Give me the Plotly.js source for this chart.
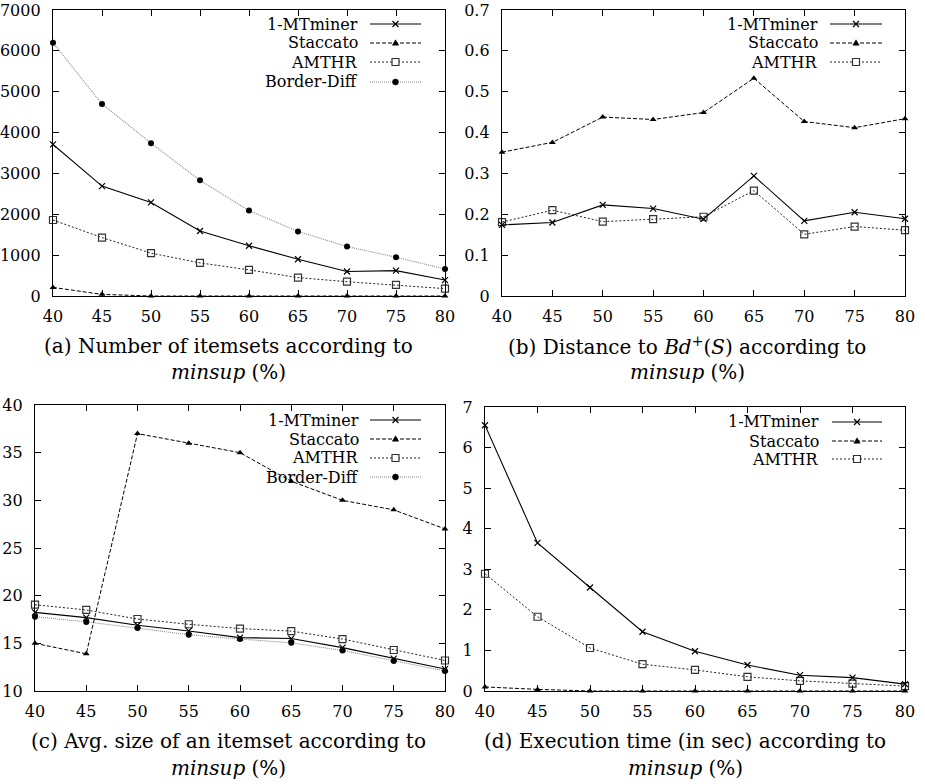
<!DOCTYPE html>
<html>
<head>
<meta charset="utf-8">
<script src="https://cdn.plot.ly/plotly-3.0.1.min.js"></script>
<style>html,body{margin:0;padding:0;background:#fff;}#chart{width:925px;height:784px;}</style>
</head>
<body>
<div id="chart"></div>
<script>
// ---------- data ----------
const minsup = [40, 45, 50, 55, 60, 65, 70, 75, 80];

// (a) Number of itemsets
const itemsMT = [3710, 2690, 2290, 1590, 1230, 900, 600, 620, 390];
const itemsStaccato = [210, 40, 0, 0, 0, 0, 0, 0, 0];
const itemsAMTHR = [1860, 1430, 1050, 810, 640, 450, 350, 270, 180];
const itemsBorder = [6200, 4700, 3740, 2830, 2090, 1580, 1210, 950, 660];

// (b) Distance to Bd+(S)
const distMT = [0.174, 0.180, 0.223, 0.214, 0.188, 0.294, 0.184, 0.205, 0.189];
const distStaccato = [0.352, 0.376, 0.438, 0.432, 0.449, 0.533, 0.427, 0.412, 0.434];
const distAMTHR = [0.181, 0.210, 0.182, 0.188, 0.194, 0.258, 0.151, 0.170, 0.161];

// (c) Avg. size of an itemset
const sizeMT = [18.25, 17.7, 16.9, 16.3, 15.6, 15.5, 14.55, 13.4, 12.3];
const sizeStaccato = [15.0, 13.9, 37.0, 36.0, 35.0, 32.0, 30.0, 29.0, 27.0];
const sizeAMTHR = [19.05, 18.5, 17.55, 17.0, 16.55, 16.28, 15.45, 14.3, 13.2];
const sizeBorder = [17.8, 17.25, 16.6, 15.9, 15.45, 15.05, 14.25, 13.15, 12.1];

// (d) Execution time (sec)
const timeMT = [6.55, 3.65, 2.55, 1.46, 0.98, 0.64, 0.39, 0.33, 0.17];
const timeStaccato = [0.1, 0.04, 0, 0, 0, 0, 0, 0, 0];
const timeAMTHR = [2.89, 1.83, 1.06, 0.66, 0.52, 0.35, 0.25, 0.18, 0.12];

const seriesNames = ["1-MTminer", "Staccato", "AMTHR", "Border-Diff"];
const captions = [
  "(a) Number of itemsets according to",
  "(b) Distance to <i>Bd</i><sup>+</sup>(<i>S</i>) according to",
  "(c) Avg. size of an itemset according to",
  "(d) Execution time (in sec) according to"
];
const captionLine2 = "<i>minsup</i> (%)";

// ---------- styles ----------
const W = 925, H = 784;
const FONT = "DejaVu Serif";
const TICK_SIZE = 16, LEG_SIZE = 16, CAP_SIZE = 20;
const styles = {
  "1-MTminer":  {line: {color: "#000", width: 1.1, dash: "solid"}, marker: {symbol: "x-thin", size: 6, color: "#000", line: {width: 1.2, color: "#000"}}},
  "Staccato":   {line: {color: "#000", width: 1, dash: "4px,2px"}, marker: {symbol: "triangle-up", size: 6, color: "#000"}},
  "AMTHR":      {line: {color: "#222", width: 1, dash: "2px,2px"}, marker: {symbol: "square-open", size: 7, color: "#333", line: {width: 1.2, color: "#333"}}},
  "Border-Diff":{line: {color: "#8a8a8a", width: 1.1, dash: "1px,1px"}, marker: {symbol: "circle", size: 6, color: "#000"}}
};

function trace(name, ys, ax) {
  const s = styles[name];
  return {
    type: "scatter", mode: "lines+markers", name: name,
    x: minsup, y: ys, xaxis: "x" + ax, yaxis: "y" + ax,
    line: s.line, marker: s.marker, cliponaxis: false, showlegend: false
  };
}

const data = [
  trace("Border-Diff", itemsBorder, ""), trace("AMTHR", itemsAMTHR, ""), trace("Staccato", itemsStaccato, ""), trace("1-MTminer", itemsMT, ""),
  trace("AMTHR", distAMTHR, "2"), trace("Staccato", distStaccato, "2"), trace("1-MTminer", distMT, "2"),
  trace("Border-Diff", sizeBorder, "3"), trace("AMTHR", sizeAMTHR, "3"), trace("Staccato", sizeStaccato, "3"), trace("1-MTminer", sizeMT, "3"),
  trace("AMTHR", timeAMTHR, "4"), trace("Staccato", timeStaccato, "4"), trace("1-MTminer", timeMT, "4")
];

// ---------- layout ----------
const px = x => x / W;
const py = y => 1 - y / H;

function xAxis(l, r, anchor) {
  return {
    domain: [px(l), px(r)], range: [40, 80], tick0: 40, dtick: 5, anchor: anchor,
    showgrid: false, zeroline: false, showline: true, linecolor: "#000", linewidth: 1.2, mirror: "ticks",
    ticks: "inside", ticklen: 6, tickcolor: "#000", tickwidth: 1, ticklabeloverflow: "allow",
    tickfont: {family: FONT, size: TICK_SIZE, color: "#000"}, ticklabelstandoff: 6, fixedrange: true
  };
}
function yAxis(t, b, range, dtick, anchor) {
  return {
    domain: [py(b), py(t)], range: range, dtick: dtick, tick0: range[0], anchor: anchor,
    showgrid: false, zeroline: false, showline: true, linecolor: "#000", linewidth: 1.2, mirror: "ticks",
    ticks: "inside", ticklen: 6, tickcolor: "#000", tickwidth: 1, ticklabeloverflow: "allow",
    tickfont: {family: FONT, size: TICK_SIZE, color: "#000"}, ticklabelstandoff: 8, fixedrange: true
  };
}

const annotations = [];
const shapes = [];

function addLegend(names, textRight, lineL, lineR, rowsY) {
  names.forEach((n, i) => {
    const y = rowsY[i];
    const s = styles[n];
    annotations.push({xref: "paper", yref: "paper", x: px(textRight), y: py(y), xanchor: "right", yanchor: "middle",
      text: n, showarrow: false, font: {family: FONT, size: LEG_SIZE, color: "#000"}, borderpad: 0});
    shapes.push({type: "line", xref: "paper", yref: "paper", x0: px(lineL), x1: px(lineR), y0: py(y), y1: py(y),
      line: {color: s.line.color, width: s.line.width, dash: s.line.dash}});
    const cx = px((lineL + lineR) / 2), cy = py(y);
    const base = {xref: "paper", yref: "paper", xsizemode: "pixel", ysizemode: "pixel", xanchor: cx, yanchor: cy};
    if (n === "1-MTminer") {
      shapes.push(Object.assign({}, base, {type: "path", path: "M-3,-3L3,3M-3,3L3,-3", line: {color: "#000", width: 1.2}}));
    } else if (n === "Staccato") {
      shapes.push(Object.assign({}, base, {type: "path", path: "M-3.2,-2.2L3.2,-2.2L0,3.2Z", fillcolor: "#000", line: {color: "#000", width: 0.5}}));
    } else if (n === "AMTHR") {
      shapes.push(Object.assign({}, base, {type: "rect", x0: -3.5, x1: 3.5, y0: -3.5, y1: 3.5, fillcolor: "#fff", line: {color: "#333", width: 1.2}}));
    } else {
      shapes.push(Object.assign({}, base, {type: "circle", x0: -3, x1: 3, y0: -3, y1: 3, fillcolor: "#000", line: {color: "#000", width: 0.5}}));
    }
  });
}

addLegend(seriesNames, 359, 370, 421, [24, 43, 62, 82]);
addLegend(seriesNames.slice(0, 3), 819, 830, 882, [24, 43, 62]);
addLegend(seriesNames, 360, 370, 421, [420, 439, 458, 477]);
addLegend(seriesNames.slice(0, 3), 820, 832, 882, [422, 441, 459]);

function addCaption(text, cx, y1, y2) {
  annotations.push({xref: "paper", yref: "paper", x: px(cx), y: py(y1), xanchor: "center", yanchor: "middle",
    text: text, showarrow: false, font: {family: FONT, size: CAP_SIZE, color: "#000"}});
  annotations.push({xref: "paper", yref: "paper", x: px(cx), y: py(y2), xanchor: "center", yanchor: "middle",
    text: captionLine2, showarrow: false, font: {family: FONT, size: CAP_SIZE, color: "#000"}});
}
addCaption(captions[0], 228, 346, 372);
addCaption(captions[1], 687, 346, 372);
addCaption(captions[2], 228, 741, 768);
addCaption(captions[3], 685, 741, 768);

const layout = {
  width: W, height: H, margin: {l: 0, r: 0, t: 0, b: 0},
  paper_bgcolor: "#fff", plot_bgcolor: "#fff", showlegend: false,
  font: {family: FONT, color: "#000"},
  xaxis: xAxis(53, 445, "y"),
  yaxis: yAxis(10, 296, [0, 7000], 1000, "x"),
  xaxis2: xAxis(502, 905, "y2"),
  yaxis2: yAxis(10, 296, [0, 0.7], 0.1, "x2"),
  xaxis3: xAxis(35, 445, "y3"),
  yaxis3: yAxis(405, 691, [10, 40], 5, "x3"),
  xaxis4: xAxis(485, 905, "y4"),
  yaxis4: yAxis(407, 691, [0, 7], 1, "x4"),
  annotations: annotations, shapes: shapes
};

Plotly.newPlot("chart", data, layout, {staticPlot: true, displayModeBar: false});
</script>
</body>
</html>
